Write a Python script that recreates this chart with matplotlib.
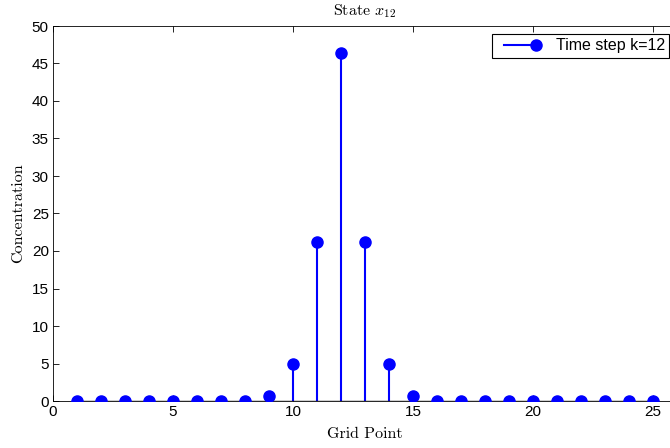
import numpy as np
import matplotlib
matplotlib.use("Agg")
import matplotlib.pyplot as plt
from matplotlib.lines import Line2D
from matplotlib.legend_handler import HandlerLine2D

plt.rcParams['mathtext.fontset'] = 'cm'
plt.rcParams['font.family'] = ['Liberation Sans', 'DejaVu Sans']

# grid points and concentration at time step k=12
grid = np.arange(1, 26)
conc = [0, 0, 0, 0, 0, 0, 0, 0, 0.7, 4.9, 21.2, 46.4, 21.2, 4.9, 0.7,
        0, 0, 0, 0, 0, 0, 0, 0, 0, 0]


class EndMarker(HandlerLine2D):
    # matlab style legend entry: line with the marker at its right end,
    # starting a little in from the left of the handle box
    def create_artists(self, legend, orig_handle, xdescent, ydescent, width, height, fontsize, trans):
        arts = super().create_artists(legend, orig_handle, xdescent, ydescent, width, height, fontsize, trans)
        for a in arts:
            x = np.asarray(a.get_xdata(), dtype=float)
            y = np.asarray(a.get_ydata(), dtype=float)
            x = np.linspace(x[0] + 5.5, x[-1], len(x))
            a.set_data(x, y)
            a.set_markevery([len(x) - 1])
        return arts


fig = plt.figure(figsize=(6.7, 4.48), dpi=100)
# axes runs a bit past the right edge of the figure, like the original
ax = fig.add_axes([53 / 670, 47 / 448, 624 / 670, 375 / 448])

markers, stems, base = ax.stem(grid, conc, linefmt='-', markerfmt='o', basefmt='k-')
plt.setp(stems, color='#0000ff', linewidth=1.5)
plt.setp(markers, color='#0000ff', markersize=8, zorder=4)
plt.setp(base, color='black', linewidth=1.0)

ax.set_xlim(0, 26)
ax.set_ylim(0, 50)
ax.set_xticks(np.arange(0, 26, 5))
ax.set_yticks(np.arange(0, 51, 5))
ax.tick_params(direction='in', top=True, right=True, length=4, labelsize=11, width=0.6, pad=3)
for s in ax.spines.values():
    s.set_linewidth(0.6)

ax.set_title('State $x_{12}$', fontname='cmr10', fontsize=11.5, pad=8)
ax.set_xlabel('Grid Point', fontname='cmr10', fontsize=11.5, labelpad=6)
ax.set_ylabel('Concentration', fontname='cmr10', fontsize=11.5, labelpad=5)

h = Line2D([], [], color='#0000ff', linewidth=1.5, marker='o', markersize=8)
leg = ax.legend([h], ['Time step k=12'], loc='upper right', fontsize=11.5, fancybox=False,
                edgecolor='black', framealpha=1, borderaxespad=0.47, borderpad=0.3,
                handlelength=2.45, handletextpad=1.25, numpoints=1,
                handler_map={Line2D: EndMarker()})
leg.get_frame().set_linewidth(0.8)

fig.savefig('out.png', dpi=100)
